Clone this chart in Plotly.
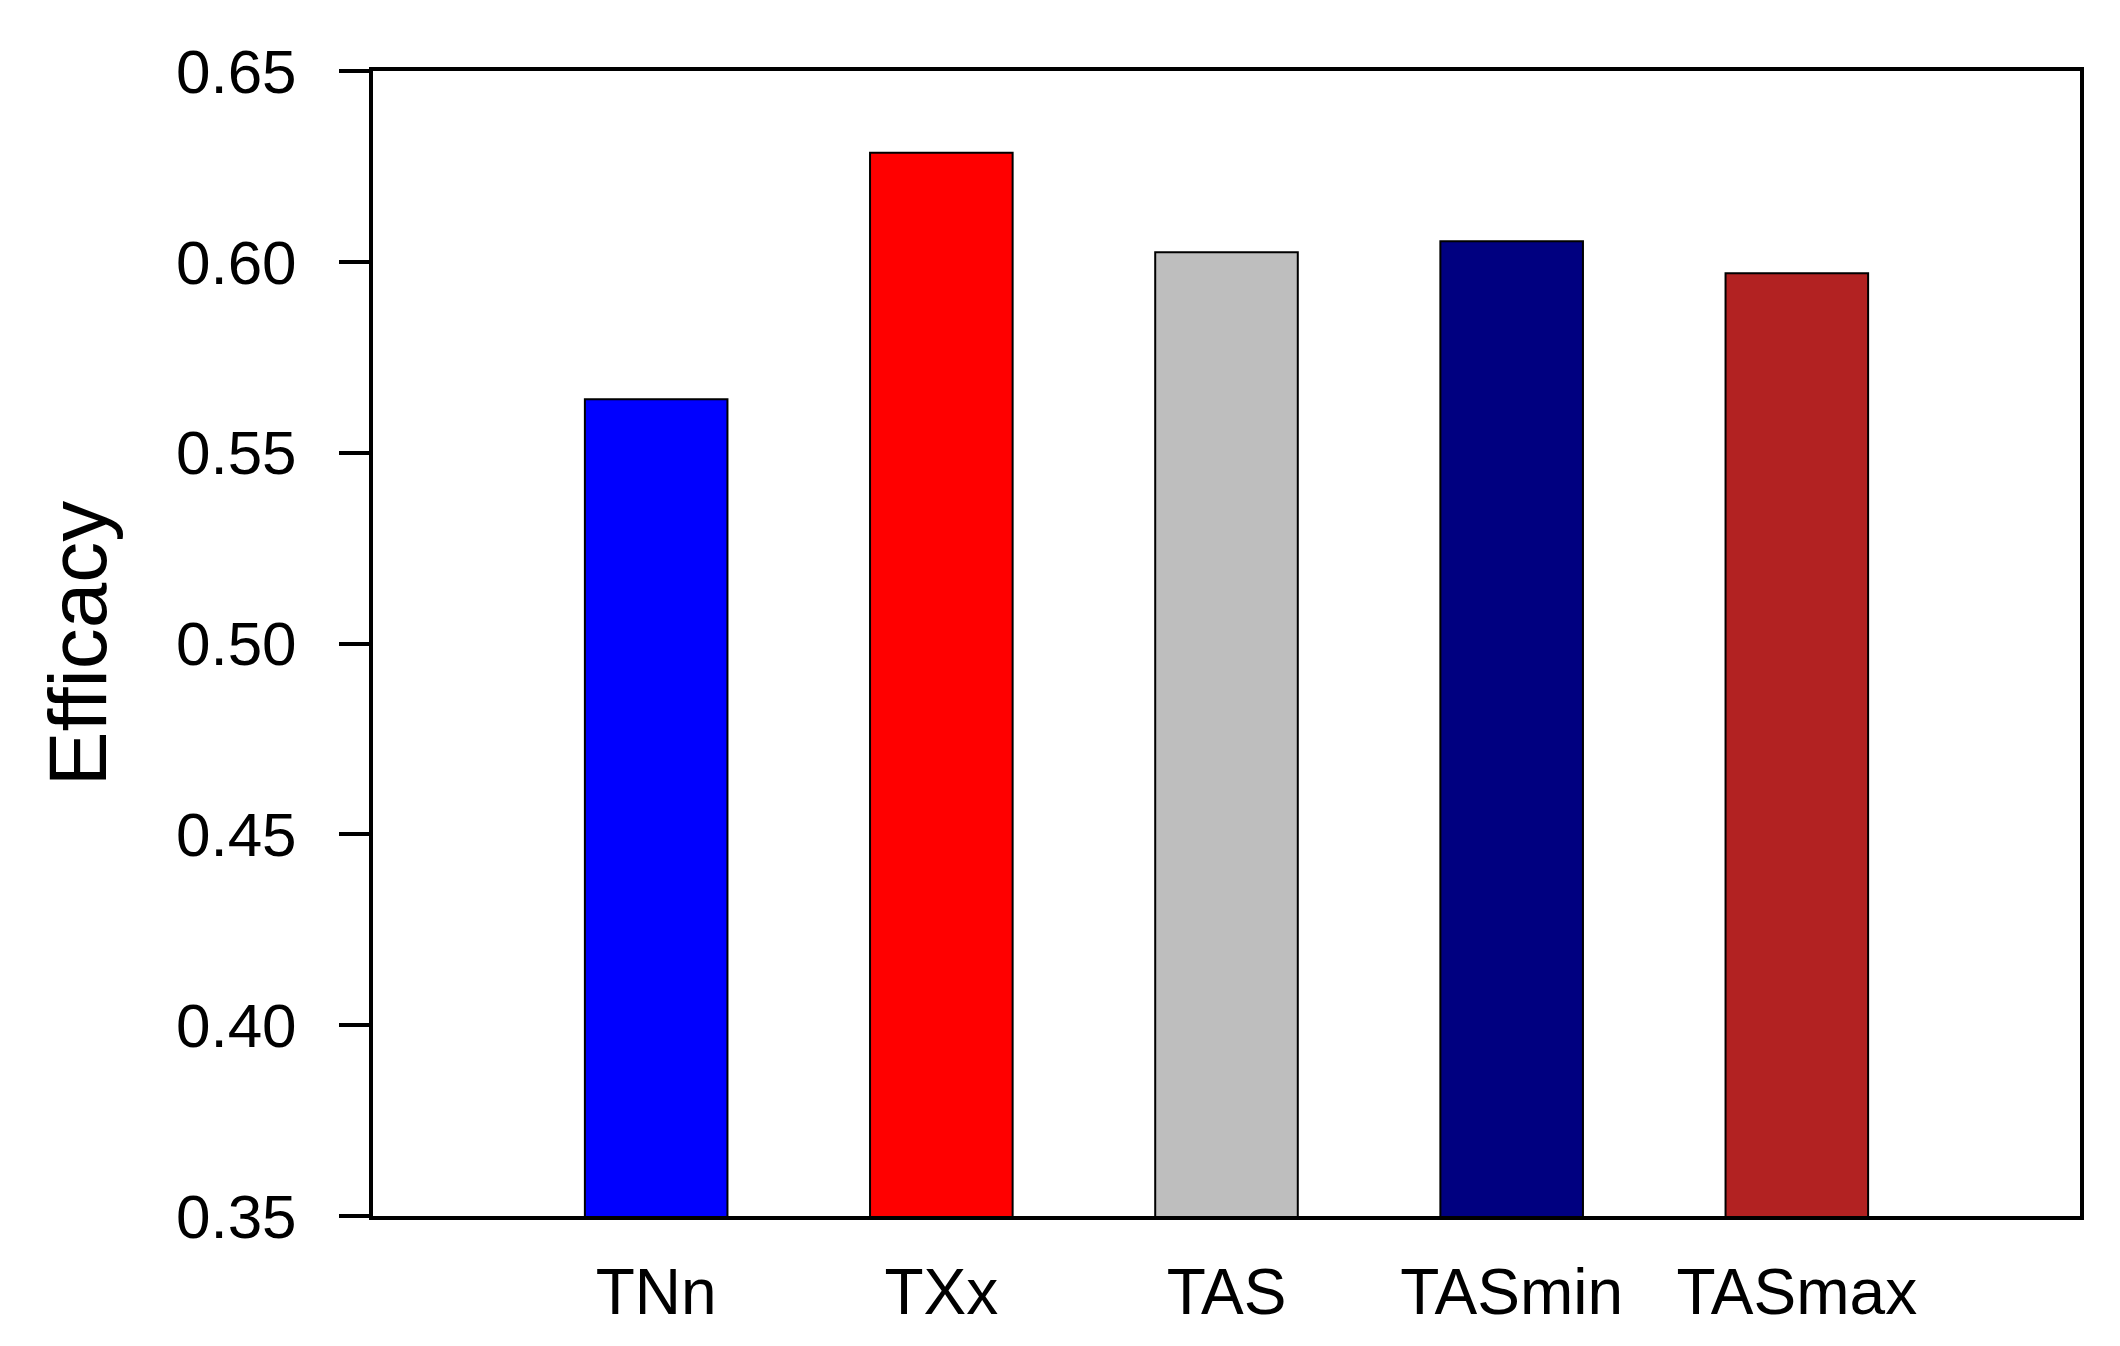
import plotly.graph_objects as go

categories = ["TNn", "TXx", "TAS", "TASmin", "TASmax"]
efficacy = [0.564, 0.6286, 0.6025, 0.6054, 0.597]
colors = ["#0000FF", "#FF0000", "#BEBEBE", "#000080", "#B22222"]
y_ticks = [0.35, 0.40, 0.45, 0.50, 0.55, 0.60, 0.65]

FONT = "Liberation Sans, Arial, Helvetica, sans-serif"

fig = go.Figure(
    go.Bar(
        x=categories,
        y=efficacy,
        width=0.5,
        marker=dict(color=colors, line=dict(color="black", width=2)),
        showlegend=False,
    )
)

fig.update_layout(
    width=2120,
    height=1346,
    paper_bgcolor="white",
    plot_bgcolor="white",
    margin=dict(l=365, r=48, t=63, b=138, pad=0),
    font=dict(family=FONT, size=64, color="black"),
)

fig.update_xaxes(
    type="category",
    range=[-0.993, 4.993],
    showgrid=False,
    showline=True,
    linecolor="black",
    linewidth=4,
    mirror=True,
    ticks="",
    tickfont=dict(size=64, family=FONT),
    ticklabelstandoff=17,
)

fig.update_yaxes(
    range=[0.35, 0.65],
    tickvals=y_ticks,
    tickformat=".2f",
    showgrid=False,
    zeroline=False,
    showline=True,
    linecolor="black",
    linewidth=4,
    mirror=True,
    ticks="outside",
    ticklen=30,
    tickwidth=4,
    tickcolor="black",
    tickfont=dict(size=62, family=FONT),
    ticklabelstandoff=30,
    title=dict(text="Efficacy", font=dict(size=82, family=FONT), standoff=43),
)

fig.write_html("out.html")
